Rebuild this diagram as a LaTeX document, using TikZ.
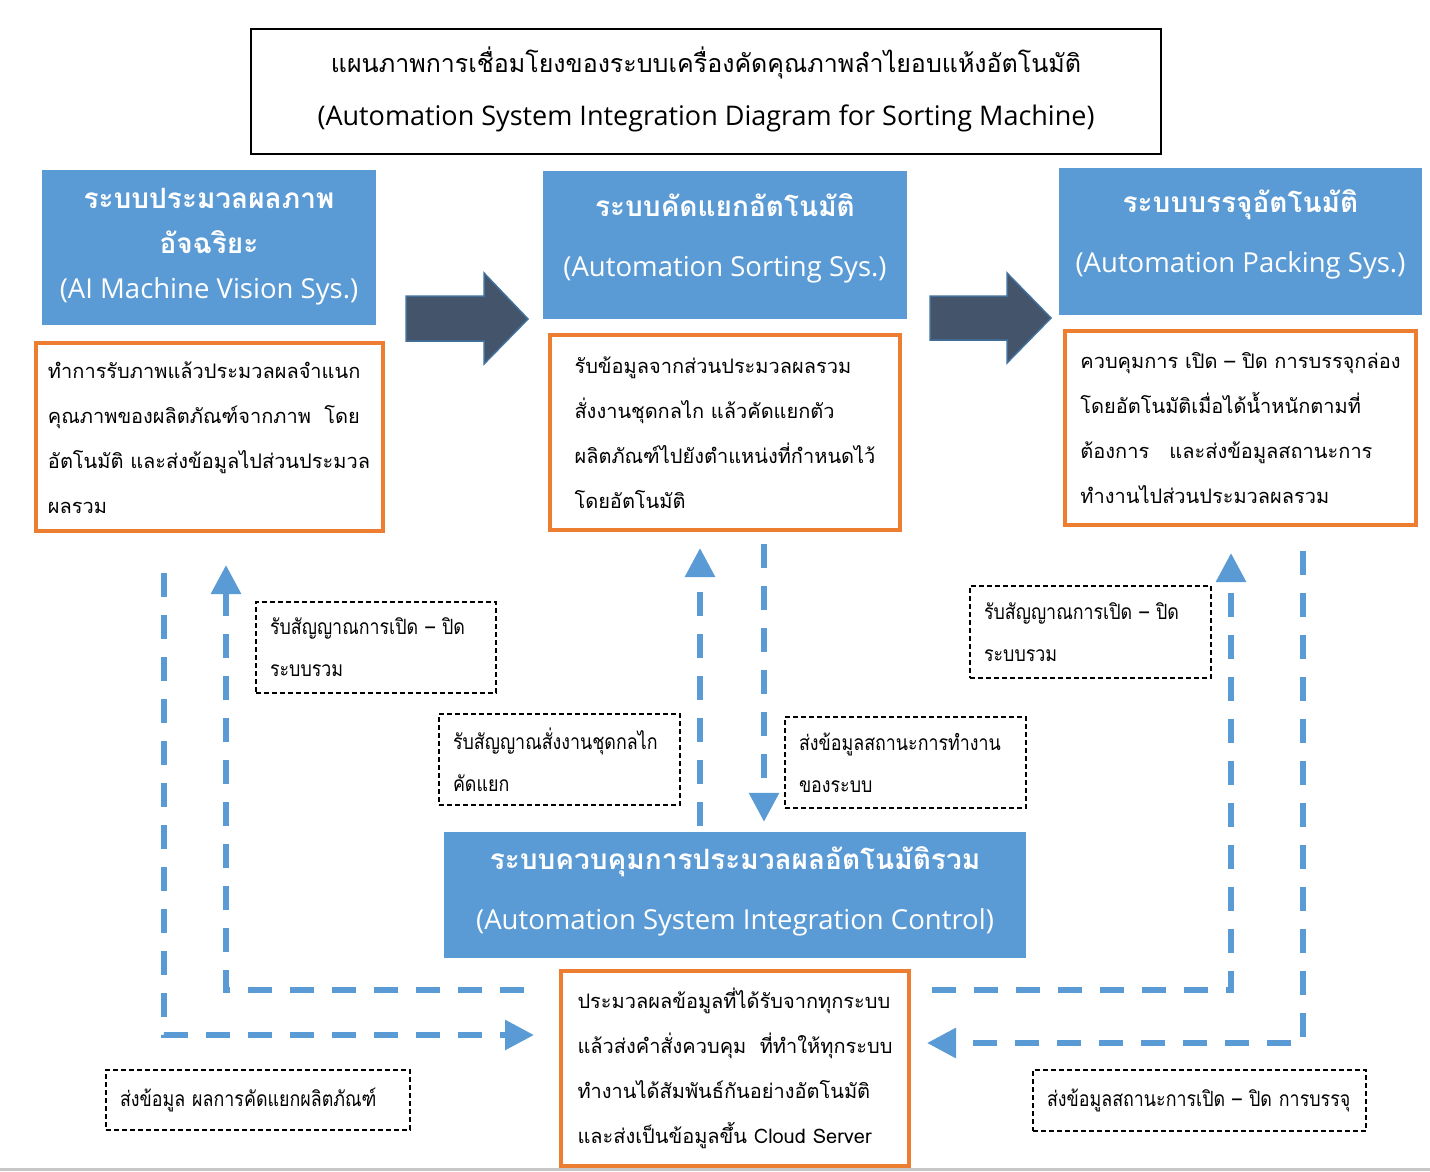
\documentclass[tikz,border=0pt]{standalone}
\usepackage{fontspec}
\setmainfont{Open Sans}
\newfontfamily\thaifont[Script=Thai]{Loma}
\newfontfamily\thaicond[Script=Thai,FakeStretch=0.85]{Loma}
\usetikzlibrary{positioning,arrows.meta}
\definecolor{sysblue}{HTML}{5B9BD5}
\definecolor{descorange}{HTML}{ED7D31}
\definecolor{arrowslate}{HTML}{44546A}
\definecolor{arrowedge}{HTML}{41719C}
\newcommand{\thead}[1]{{\thaifont\bfseries\fontsize{28}{28}\selectfont #1}}
\newcommand{\lift}[1]{\rule[-#1]{0pt}{0pt}}

\begin{document}
\begin{tikzpicture}[x=1pt,y=-1pt,
        sysbox/.style={fill=sysblue,text=white,align=center,inner sep=0pt},
        descbox/.style={draw=descorange,line width=4pt,fill=white,align=left,inner sep=0pt,
            font=\thaifont\fontsize{20}{45}\selectfont},
        notebox/.style={draw,line width=1.5pt,dash pattern=on 5pt off 3pt,fill=white,align=left,
            inner xsep=14pt,inner ysep=0pt,font=\thaicond\fontsize{21}{42}\selectfont},
        link/.style={sysblue,line width=6pt,dash pattern=on 24pt off 18pt,
            -{Triangle[length=29pt,width=29pt]}},
        blockarrow/.style={fill=arrowslate,draw=arrowedge,line width=1.5pt}]
        \useasboundingbox (0,0) rectangle (1430,1171);
        \fill[black!22] (0,1168) rectangle (1430,1171);

        \node[draw,line width=2pt,minimum width=910pt,minimum height=125pt,align=center,inner sep=0pt,
            font=\fontsize{27}{53}\selectfont] (title) at (706,91.5)
            {{\thaifont\fontsize{25}{25}\selectfont แผนภาพการเชื่อมโยงของระบบเครื่องคัดคุณภาพลำไยอบแห้งอัตโนมัติ}\\
             (Automation System Integration Diagram for Sorting Machine)\lift{10pt}};

        \node[sysbox,minimum width=334pt,minimum height=155pt,font=\fontsize{27.5}{45}\selectfont] (vision) at (209,247.5)
            {\thead{ระบบประมวลผลภาพ}\\ \thead{อัจฉริยะ}\\ (AI Machine Vision Sys.)\lift{8pt}};
        \node[sysbox,minimum width=364pt,minimum height=148pt,font=\fontsize{27.5}{60}\selectfont] (sorting) at (725,245)
            {\thead{ระบบคัดแยกอัตโนมัติ}\\ (Automation Sorting Sys.)\lift{20pt}};
        \node[sysbox,minimum width=363pt,minimum height=147pt,font=\fontsize{27.5}{60}\selectfont] (packing) at (1240.5,241.5)
            {\thead{ระบบบรรจุอัตโนมัติ}\\ (Automation Packing Sys.)\lift{20pt}};
        \node[sysbox,minimum width=582pt,minimum height=126pt,font=\fontsize{27.5}{60}\selectfont] (control) at (735,895)
            {\thead{ระบบควบคุมการประมวลผลอัตโนมัติรวม}\\ (Automation System Integration Control)\lift{14pt}};

        \node[descbox,minimum width=347pt,minimum height=188pt,below=16pt of vision] (visiondesc)
            {ทำการรับภาพแล้วประมวลผลจำแนก\\ คุณภาพของผลิตภัณฑ์จากภาพ\ \ โดย\\
             อัตโนมัติ และส่งข้อมูลไปส่วนประมวล\\ ผลรวม};
        \node[descbox,minimum width=350pt,minimum height=195pt,below=14pt of sorting] (sortingdesc)
            {รับข้อมูลจากส่วนประมวลผลรวม\\ สั่งงานชุดกลไก แล้วคัดแยกตัว\\
             ผลิตภัณฑ์ไปยังตำแหน่งที่กำหนดไว้\\ โดยอัตโนมัติ};
        \node[descbox,minimum width=351pt,minimum height=194pt,below=14pt of packing] (packingdesc)
            {ควบคุมการ เปิด – ปิด การบรรจุกล่อง\\ โดยอัตโนมัติเมื่อได้น้ำหนักตามที่\\
             ต้องการ\ \ \ และส่งข้อมูลสถานะการ\\ ทำงานไปส่วนประมวลผลรวม};
        \node[descbox,minimum width=348pt,minimum height=195pt,below=11pt of control] (controldesc)
            {ประมวลผลข้อมูลที่ได้รับจากทุกระบบ\\ แล้วส่งคำสั่งควบคุม\ \ ที่ทำให้ทุกระบบ\\
             ทำงานได้สัมพันธ์กันอย่างอัตโนมัติ\\ และส่งเป็นข้อมูลขึ้น Cloud Server};

        \fill[blockarrow] (406,296) -- (484,296) -- (484,273) -- (528,319) -- (484,364) -- (484,341) -- (406,341) -- cycle;
        \fill[blockarrow] (930,296) -- (1007,296) -- (1007,273) -- (1051,318) -- (1007,363) -- (1007,340) -- (930,340) -- cycle;

        \node[notebox,text width=212pt,minimum height=91pt] (visionin) at (376,647.5)
            {รับสัญญาณการเปิด – ปิด\\ ระบบรวม};
        \node[notebox,text width=213pt,minimum height=91pt] (sortingin) at (559.5,759.5)
            {รับสัญญาณสั่งงานชุดกลไก\\ คัดแยก};
        \node[notebox,text width=213pt,minimum height=92pt] (packingin) at (1090.5,632)
            {รับสัญญาณการเปิด – ปิด\\ ระบบรวม};
        \node[notebox,text width=213pt,minimum height=91pt] (sortingout) at (905.5,762.5)
            {ส่งข้อมูลสถานะการทำงาน\\ ของระบบ};
        \node[notebox,text width=276pt,minimum height=60pt] (visionout) at (258,1100)
            {ส่งข้อมูล ผลการคัดแยกผลิตภัณฑ์};
        \node[notebox,text width=305pt,minimum height=61pt] (packingout) at (1199.5,1100.5)
            {ส่งข้อมูลสถานะการเปิด – ปิด การบรรจุ};

        \coordinate (v1) at (164,573);
        \coordinate (v2) at (226,565);
        \coordinate (s1) at (700,548);
        \coordinate (s2) at (764,544);
        \coordinate (p1) at (1231,553);
        \coordinate (p2) at (1303,551);
        \draw[link] (v1) |- ([xshift=-25pt]controldesc.west |- 0,1035);
        \draw[link] ([xshift=-35pt]controldesc.west |- 0,990) -| (v2);
        \draw[link] ([yshift=6pt]control.north -| s1) -- (s1);
        \draw[link] (s2) -- ([yshift=10pt]control.north -| s2);
        \draw[link] ([xshift=21pt]controldesc.east |- 0,990) -| (p1);
        \draw[link] (p2) |- ([xshift=16pt]controldesc.east |- 0,1043);
\end{tikzpicture}
\end{document}
